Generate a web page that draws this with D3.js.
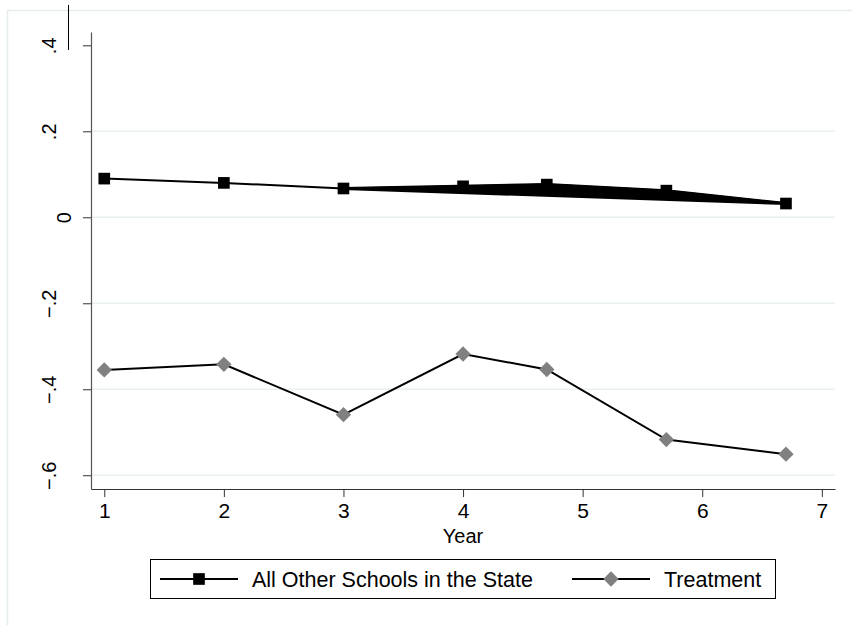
<!DOCTYPE html>
<html>
<head>
<meta charset="utf-8">
<script src="https://cdn.jsdelivr.net/npm/d3@7"></script>
<style>
  body { margin: 0; background: #fff; }
  svg { display: block; font-family: "Liberation Sans", Arial, sans-serif; }
</style>
</head>
<body>
<div class="container"></div>
<script>
// Data
const years = [1, 2, 3, 4, 4.7, 5.7, 6.7];
const otherSchools = [0.090, 0.080, 0.067, 0.072, 0.076, 0.062, 0.032];
const treatment = [-0.355, -0.342, -0.459, -0.318, -0.354, -0.517, -0.551];
const xTicks = [1, 2, 3, 4, 5, 6, 7];
const yTicks = [-0.6, -0.4, -0.2, 0, 0.2, 0.4];
const seriesNames = ["All Other Schools in the State", "Treatment"];

const width = 852, height = 625;

const svg = d3.select('.container').append('svg')
  .attr('width', width)
  .attr('height', height);

svg.append('rect').attr('width', width).attr('height', height).attr('fill', '#fff');

// outer graph region frame (light)
svg.append('path')
  .attr('d', 'M7.5,625 V10.5 H852')
  .attr('fill', 'none')
  .attr('stroke', '#e4ecee')
  .attr('stroke-width', 1.5);

// stray mark at the top left
svg.append('line')
  .attr('x1', 68.5).attr('x2', 68.5)
  .attr('y1', 5).attr('y2', 50)
  .attr('stroke', '#000').attr('stroke-width', 1);

// scales (domain padded so the axis lines run past the end ticks)
const x = d3.scaleLinear().domain([0.889, 7.11]).range([91, 835]);
const y = d3.scaleLinear().domain([-0.632, 0.431]).range([489, 32]);

// gridlines
svg.append('g')
  .selectAll('line')
  .data(yTicks.filter(d => d < 0.4))
  .join('line')
  .attr('x1', 92).attr('x2', 835)
  .attr('y1', d => y(d)).attr('y2', d => y(d))
  .attr('stroke', '#e8f0f2')
  .attr('stroke-width', 1.5);

const fmt = d => d === 0 ? '0' : d3.format('.1f')(d).replace('0.', '.');

// y axis
const yAxis = svg.append('g')
  .attr('transform', 'translate(91,0)')
  .call(d3.axisLeft(y).tickValues(yTicks).tickFormat(fmt).tickSize(8).tickSizeOuter(0));
yAxis.select('.domain').attr('stroke', '#555').attr('stroke-width', 1.2);
yAxis.selectAll('.tick line').attr('stroke', '#333');
yAxis.selectAll('.tick text')
  .attr('transform', 'rotate(-90)')
  .attr('x', 0)
  .attr('y', d => d === 0 ? -20 : -35)
  .attr('dy', 0)
  .attr('text-anchor', 'middle')
  .attr('font-size', 20)
  .attr('fill', '#000')
  .style('font-family', '"Liberation Sans", Arial, sans-serif');

// x axis
const xAxis = svg.append('g')
  .attr('transform', 'translate(0,489)')
  .call(d3.axisBottom(x).tickValues(xTicks).tickFormat(d3.format('d')).tickSize(8).tickSizeOuter(0));
xAxis.select('.domain').attr('stroke', '#333').attr('stroke-width', 1.2);
xAxis.selectAll('.tick line').attr('stroke', '#333');
xAxis.selectAll('.tick text')
  .attr('y', 14)
  .attr('dy', '0.71em')
  .attr('font-size', 21)
  .attr('fill', '#000')
  .style('font-family', '"Liberation Sans", Arial, sans-serif');

svg.append('text')
  .attr('x', x(4)).attr('y', 543)
  .attr('text-anchor', 'middle')
  .attr('font-size', 20)
  .text('Year');

// series
const line = d3.line().x(d => x(d[0])).y(d => y(d[1]));
const otherPts = years.map((d, i) => [d, otherSchools[i]]);
const treatPts = years.map((d, i) => [d, treatment[i]]);

// the many overlapping connecting lines from year 3 on fill their hull solid black
const hull = d3.polygonHull(otherPts.slice(2).map(p => [x(p[0]), y(p[1])]));
svg.append('path')
  .attr('d', 'M' + hull.join('L') + 'Z')
  .attr('fill', '#000')
  .attr('stroke', '#000')
  .attr('stroke-width', 3)
  .attr('stroke-linejoin', 'round');

svg.append('path')
  .attr('d', line(otherPts))
  .attr('fill', 'none')
  .attr('stroke', '#000')
  .attr('stroke-width', 2);

svg.append('path')
  .attr('d', line(treatPts))
  .attr('fill', 'none')
  .attr('stroke', '#000')
  .attr('stroke-width', 2);

const square = d3.symbol().type(d3.symbolSquare).size(136);
const diamond = d3.symbol().type(d3.symbolSquare).size(118);

svg.append('g')
  .selectAll('path')
  .data(otherPts)
  .join('path')
  .attr('transform', d => `translate(${x(d[0])},${y(d[1])})`)
  .attr('d', square)
  .attr('fill', '#000');

svg.append('g')
  .selectAll('path')
  .data(treatPts)
  .join('path')
  .attr('transform', d => `translate(${x(d[0])},${y(d[1])}) rotate(45)`)
  .attr('d', diamond)
  .attr('fill', '#808080');

// legend
const legend = svg.append('g');
legend.append('rect')
  .attr('x', 150.5).attr('y', 559.5)
  .attr('width', 625).attr('height', 39)
  .attr('fill', '#fff')
  .attr('stroke', '#000')
  .attr('stroke-width', 1);

const legendItems = [
  { name: seriesNames[0], x0: 160, marker: square, rot: 0, color: '#000' },
  { name: seriesNames[1], x0: 572, marker: diamond, rot: 45, color: '#808080' }
];
legendItems.forEach(item => {
  legend.append('line')
    .attr('x1', item.x0).attr('x2', item.x0 + 78)
    .attr('y1', 579).attr('y2', 579)
    .attr('stroke', '#000').attr('stroke-width', 2);
  legend.append('path')
    .attr('transform', `translate(${item.x0 + 39},579) rotate(${item.rot})`)
    .attr('d', item.marker)
    .attr('fill', item.color);
  legend.append('text')
    .attr('x', item.x0 + 92).attr('y', 579)
    .attr('dy', '0.36em')
    .attr('font-size', 21.5)
    .text(item.name);
});
</script>
</body>
</html>
